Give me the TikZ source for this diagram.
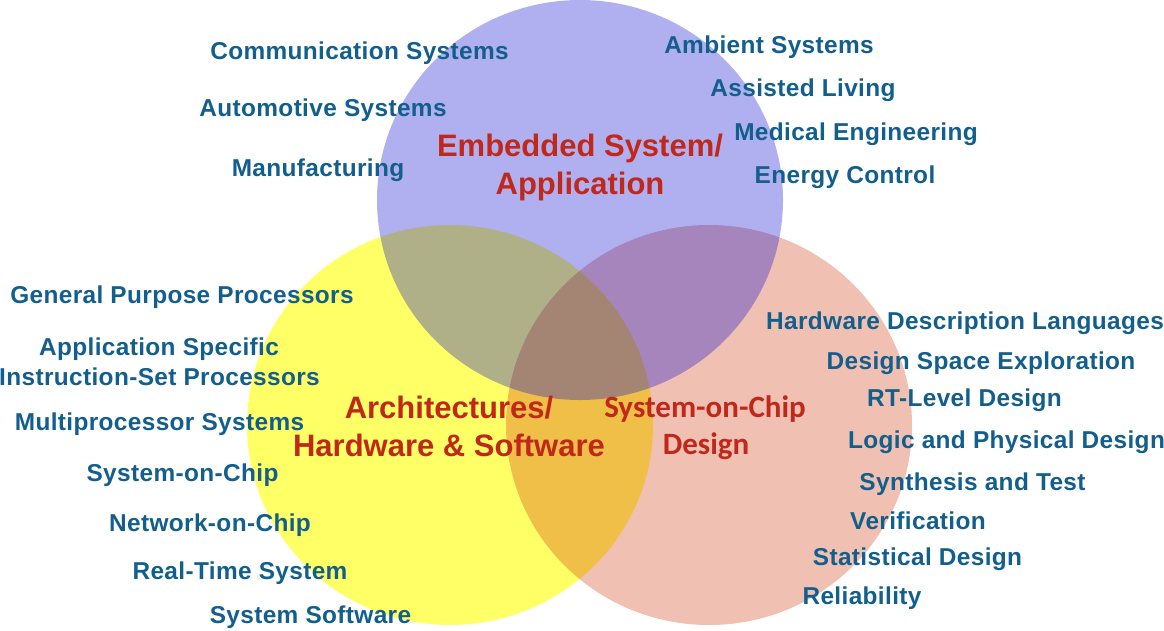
\documentclass[tikz,border=0pt]{standalone}
\usepackage{fontspec}
\setmainfont{Liberation Sans}
\newfontfamily\calib{Carlito}
\definecolor{itemblue}{RGB}{18,94,140}
\definecolor{labelred}{RGB}{192,40,28}
\definecolor{yellowfill}{RGB}{255,255,102}
\definecolor{salmonfill}{RGB}{205,45,0}
\definecolor{bluefill}{RGB}{8,8,208}
\tikzset{
  item/.style={anchor=base, inner sep=0pt, text=itemblue, font=\fontsize{24.4}{28}\selectfont\bfseries\addfontfeature{LetterSpace=1.5}},
  area/.style={anchor=base, inner sep=0pt, text=labelred, font=\fontsize{31}{36}\selectfont\bfseries},
  areac/.style={anchor=base, inner sep=0pt, text=labelred, font=\fontsize{31}{36}\selectfont\calib\bfseries},
}
\begin{document}
\begin{tikzpicture}[x=1pt,y=-1pt]
\useasboundingbox (0,0) rectangle (1164,630);
% circles
\fill[yellowfill] (450,425) ellipse [x radius=203, y radius=200];
\fill[salmonfill, opacity=0.3] (709,425) ellipse [x radius=203, y radius=200];
\fill[bluefill, opacity=0.32] (580,200) ellipse [x radius=203, y radius=200];
% area labels
\node[area] (emb1) at (580,156) {Embedded System/};
\node[area] (emb2) at (580,194) {Application};
\node[area] (arch1) at (449,418) {Architectures/};
\node[area] (arch2) at (449,456) {Hardware \& Software};
\node[areac] (soc1) at (705,417) {System-on-Chip};
\node[areac] (soc2) at (706,454) {Design};
% top left
\node[item] (comm) at (359.5,59) {Communication Systems};
\node[item] (auto) at (323,116) {Automotive Systems};
\node[item] (manu) at (318,176) {Manufacturing};
% top right
\node[item] (amb) at (769,53) {Ambient Systems};
\node[item] (ass) at (803,96) {Assisted Living};
\node[item] (med) at (856,140) {Medical Engineering};
\node[item] (ene) at (845,183) {Energy Control};
% left
\node[item] (gpp) at (182,303) {General Purpose Processors};
\node[item] (app) at (159,355) {Application Specific};
\node[item] (isp) at (159.5,385) {Instruction-Set Processors};
\node[item] (mps) at (159.5,430) {Multiprocessor Systems};
\node[item] (soc) at (182.5,481) {System-on-Chip};
\node[item] (noc) at (210,531) {Network-on-Chip};
\node[item] (rts) at (240,579) {Real-Time System};
\node[item] (sws) at (310.5,623) {System Software};
% right
\node[item] (hdl) at (965,329) {Hardware Description Languages};
\node[item] (dse) at (981,369) {Design Space Exploration};
\node[item] (rtl) at (964.5,406) {RT-Level Design};
\node[item] (lpd) at (1006.5,448) {Logic and Physical Design};
\node[item] (syn) at (972.5,490) {Synthesis and Test};
\node[item] (ver) at (918,529) {Verification};
\node[item] (sta) at (917.5,565) {Statistical Design};
\node[item] (rel) at (862,604) {Reliability};
\end{tikzpicture}
\end{document}
